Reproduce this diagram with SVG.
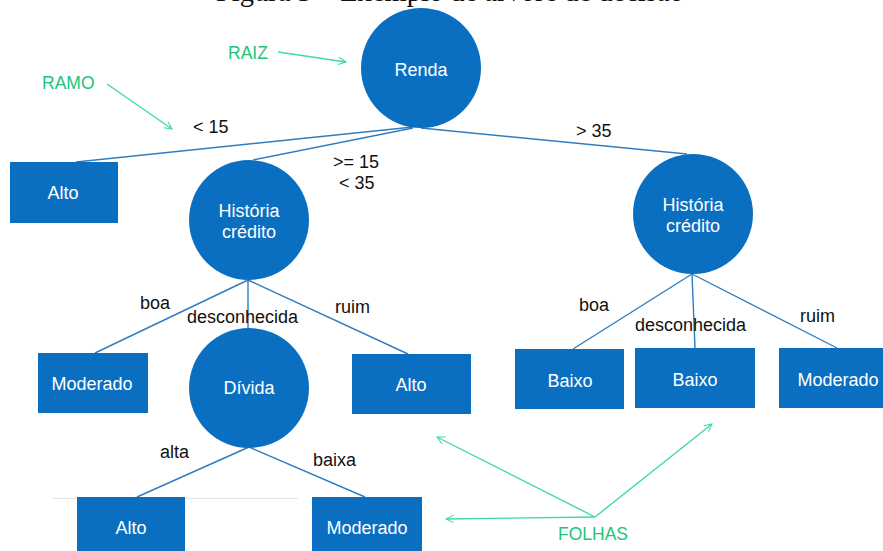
<svg xmlns="http://www.w3.org/2000/svg" width="883" height="551" viewBox="0 0 883 551">
<style>
.node{fill:#0b6fc1}
.nt{font-family:"Liberation Sans",Arial,sans-serif;font-size:18px;fill:#ffffff;text-anchor:middle}
.lbl{font-family:"Liberation Sans",Arial,sans-serif;font-size:18px;fill:#111111}
.edge{stroke:#2f7dc0;stroke-width:1.4;fill:none}
.ann{font-family:"Liberation Sans",Arial,sans-serif;font-size:17.5px;fill:#1dc47a}
.arw{stroke:#3fdc9c;stroke-width:1.4;fill:none;marker-end:url(#open)}
</style>
<defs>
<marker id="open" viewBox="0 0 12 12" refX="11" refY="6" markerWidth="9" markerHeight="9" orient="auto" markerUnits="userSpaceOnUse">
<path d="M1,1 L11,6 L1,11" fill="none" stroke="#3fdc9c" stroke-width="1.4"/>
</marker>
</defs>
<rect width="883" height="551" fill="#ffffff"/>
<text x="216" y="1" font-family="Liberation Serif,Times New Roman,serif" font-size="28.5" fill="#111">Figura 3 – Exemplo de árvore de decisão</text>
<line x1="53" y1="498.5" x2="298" y2="498.5" stroke="#e2e2e2" stroke-width="1"/>
<g id="connectors">
<line class="edge" x1="413" y1="127" x2="76" y2="162"/>
<line class="edge" x1="413" y1="128" x2="253" y2="160"/>
<line class="edge" x1="421" y1="128" x2="687" y2="154"/>
<line class="edge" x1="248" y1="280" x2="95" y2="353"/>
<line class="edge" x1="248" y1="280" x2="248" y2="329"/>
<line class="edge" x1="248" y1="280" x2="408" y2="354"/>
<line class="edge" x1="692" y1="274" x2="573" y2="349"/>
<line class="edge" x1="692" y1="274" x2="695" y2="348"/>
<line class="edge" x1="692" y1="274" x2="837" y2="348"/>
<line class="edge" x1="249" y1="447" x2="137" y2="497"/>
<line class="edge" x1="249" y1="447" x2="365" y2="497"/>
</g>
<g id="edge-labels">
<text class="lbl" x="193" y="133">&lt; 15</text>
<text class="lbl" x="333" y="168">&gt;= 15</text>
<text class="lbl" x="339" y="189">&lt; 35</text>
<text class="lbl" x="576" y="137">&gt; 35</text>
<text class="lbl" x="140" y="309">boa</text>
<text class="lbl" x="187" y="323">desconhecida</text>
<text class="lbl" x="335" y="313">ruim</text>
<text class="lbl" x="579" y="311">boa</text>
<text class="lbl" x="635" y="331">desconhecida</text>
<text class="lbl" x="800" y="322">ruim</text>
<text class="lbl" x="160" y="458">alta</text>
<text class="lbl" x="313" y="466">baixa</text>
</g>
<g id="renda"><circle class="node" cx="421" cy="68" r="60"/><text class="nt" x="421" y="76">Renda</text></g>
<g id="alto1"><rect class="node" x="10" y="162" width="108" height="61"/><text class="nt" x="63" y="199">Alto</text></g>
<g id="historia1"><circle class="node" cx="249" cy="220" r="60"/><text class="nt" x="249" y="217">História</text><text class="nt" x="249" y="238">crédito</text></g>
<g id="historia2"><circle class="node" cx="693" cy="214" r="60"/><text class="nt" x="693" y="211">História</text><text class="nt" x="693" y="232">crédito</text></g>
<g id="moderado1"><rect class="node" x="38" y="353" width="110" height="60"/><text class="nt" x="92" y="390">Moderado</text></g>
<g id="divida"><circle class="node" cx="249" cy="388" r="60"/><text class="nt" x="249" y="394">Dívida</text></g>
<g id="alto2"><rect class="node" x="352" y="354" width="119" height="60"/><text class="nt" x="411" y="391">Alto</text></g>
<g id="baixo1"><rect class="node" x="515" y="349" width="109" height="60"/><text class="nt" x="570" y="387">Baixo</text></g>
<g id="baixo2"><rect class="node" x="635" y="348" width="120" height="60"/><text class="nt" x="695" y="386">Baixo</text></g>
<g id="moderado2"><rect class="node" x="779" y="348" width="110" height="60"/><text class="nt" x="838" y="386">Moderado</text></g>
<g id="alto3"><rect class="node" x="77" y="497" width="108" height="60"/><text class="nt" x="131" y="534">Alto</text></g>
<g id="moderado3"><rect class="node" x="312" y="497" width="110" height="60"/><text class="nt" x="367" y="534">Moderado</text></g>
<g id="annotations">
<text class="ann" x="228" y="59">RAIZ</text>
<line class="arw" x1="278" y1="52" x2="346" y2="62"/>
<text class="ann" x="42" y="89">RAMO</text>
<line class="arw" x1="107" y1="84" x2="172" y2="129"/>
<text class="ann" x="558" y="540">FOLHAS</text>
<line class="arw" x1="595" y1="517" x2="437" y2="437"/>
<line class="arw" x1="595" y1="517" x2="712" y2="424"/>
<line class="arw" x1="595" y1="517" x2="446" y2="519"/>
</g>
</svg>
